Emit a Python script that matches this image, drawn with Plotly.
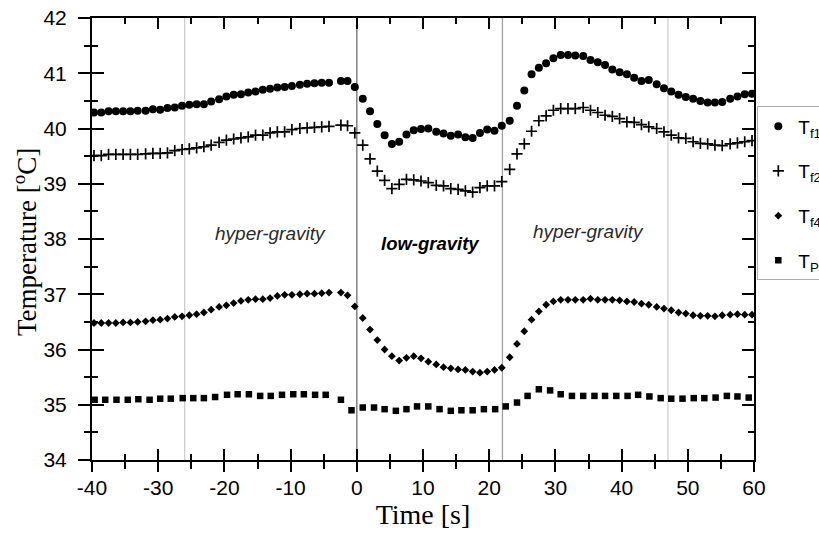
import plotly.graph_objects as go

# Sampling times of the fluid-temperature probes (s)
time_f = [
    -39.7, -38.6, -37.5, -36.4, -35.3, -34.2, -33.1, -31.9, -30.8, -29.7,
    -28.6, -27.5, -26.4, -25.3, -24.2, -23.1, -22.0, -20.8, -19.7, -18.6,
    -17.5, -16.4, -15.3, -14.2, -13.1, -12.0, -10.9, -9.8, -8.6, -7.5,
    -6.4, -5.3, -4.2, -2.4, -1.4,
    -0.3, 0.9, 2.0, 3.1, 4.2, 5.3, 6.4, 7.5, 8.6, 9.7,
    10.8, 12.0, 13.1, 14.2, 15.3, 16.4, 17.5, 18.6, 19.7, 20.8,
    21.9, 23.1, 24.2, 25.3, 26.4, 27.5, 28.6, 29.7, 30.8, 31.9,
    33.0, 34.2, 35.3, 36.4, 37.5, 38.6, 39.7, 40.8, 41.9, 43.0,
    44.1, 45.3, 46.4, 47.5, 48.6, 49.7, 50.8, 51.9, 53.0, 54.1,
    55.2, 56.4, 57.5, 58.6, 59.7,
]

t_f1 = [
    40.29, 40.29, 40.31, 40.31, 40.31, 40.31, 40.32, 40.32, 40.35, 40.34,
    40.37, 40.38, 40.41, 40.43, 40.44, 40.44, 40.49, 40.53, 40.58, 40.61,
    40.62, 40.65, 40.67, 40.70, 40.72, 40.74, 40.75, 40.77, 40.79, 40.81,
    40.82, 40.83, 40.83, 40.86, 40.86,
    40.75, 40.54, 40.31, 40.08, 39.88, 39.72, 39.76, 39.89, 39.97, 39.99,
    40.00, 39.94, 39.91, 39.87, 39.89, 39.84, 39.83, 39.92, 39.98, 39.96,
    40.05, 40.14, 40.41, 40.69, 40.98, 41.10, 41.18, 41.27, 41.33, 41.33,
    41.32, 41.31, 41.24, 41.20, 41.15, 41.07, 41.02, 40.98, 40.92, 40.86,
    40.88, 40.80, 40.73, 40.67, 40.61, 40.57, 40.54, 40.50, 40.47, 40.47,
    40.48, 40.54, 40.58, 40.62, 40.63,
]

t_f2 = [
    39.51, 39.51, 39.53, 39.53, 39.53, 39.53, 39.53, 39.54, 39.55, 39.55,
    39.56, 39.60, 39.62, 39.63, 39.65, 39.67, 39.70, 39.75, 39.79, 39.81,
    39.83, 39.85, 39.88, 39.88, 39.92, 39.94, 39.94, 39.98, 40.00, 40.01,
    40.02, 40.03, 40.04, 40.06, 40.05,
    39.92, 39.70, 39.45, 39.23, 39.06, 38.91, 38.99, 39.08, 39.07, 39.05,
    39.02, 38.97, 38.96, 38.91, 38.90, 38.87, 38.85, 38.93, 38.96, 38.96,
    39.04, 39.26, 39.54, 39.72, 39.95, 40.14, 40.23, 40.33, 40.36, 40.36,
    40.36, 40.38, 40.33, 40.29, 40.24, 40.22, 40.18, 40.12, 40.11, 40.07,
    40.03, 40.00, 39.94, 39.88, 39.83, 39.82, 39.76, 39.73, 39.72, 39.70,
    39.69, 39.72, 39.74, 39.76, 39.78,
]

t_f4 = [
    36.48, 36.48, 36.48, 36.48, 36.49, 36.49, 36.50, 36.51, 36.53, 36.54,
    36.56, 36.59, 36.60, 36.62, 36.64, 36.67, 36.72, 36.77, 36.80, 36.84,
    36.88, 36.90, 36.91, 36.91, 36.93, 36.97, 36.99, 36.99, 37.00, 37.01,
    37.01, 37.02, 37.03, 37.03, 36.98,
    36.78, 36.57, 36.36, 36.17, 36.00, 35.88, 35.80, 35.85, 35.88, 35.84,
    35.78, 35.73, 35.68, 35.66, 35.64, 35.63, 35.60, 35.58, 35.60, 35.63,
    35.67, 35.86, 36.10, 36.33, 36.54, 36.69, 36.81, 36.87, 36.90, 36.90,
    36.90, 36.90, 36.92, 36.90, 36.90, 36.90, 36.89, 36.87, 36.86, 36.83,
    36.81, 36.77, 36.74, 36.71, 36.67, 36.65, 36.62, 36.61, 36.61, 36.60,
    36.62, 36.63, 36.64, 36.63, 36.63,
]

# Phantom probe has its own, coarser sampling
time_ph = [
    -39.6, -38.0, -36.3, -34.6, -33.0, -31.3, -29.7, -28.1, -26.3, -24.7,
    -23.1, -21.4, -19.6, -18.0, -16.3, -14.6, -13.0, -11.3, -9.6, -8.0,
    -6.3, -4.7, -2.4, -0.8, 0.9, 2.6, 4.2, 5.9, 7.5, 9.1,
    10.8, 12.5, 14.2, 15.8, 17.5, 19.2, 20.9, 22.5, 24.2, 25.8,
    27.5, 29.2, 30.8, 32.5, 34.2, 35.9, 37.5, 39.2, 40.9, 42.5,
    44.2, 45.9, 47.5, 49.2, 50.9, 52.5, 54.2, 55.9, 57.5, 59.2,
]

t_ph = [
    35.09, 35.09, 35.09, 35.09, 35.10, 35.09, 35.11, 35.11, 35.12, 35.12,
    35.12, 35.14, 35.18, 35.19, 35.19, 35.16, 35.16, 35.18, 35.19, 35.19,
    35.18, 35.18, 35.09, 34.90, 34.95, 34.95, 34.92, 34.89, 34.92, 34.97,
    34.97, 34.92, 34.89, 34.90, 34.90, 34.92, 34.92, 34.97, 35.04, 35.16,
    35.28, 35.26, 35.19, 35.16, 35.16, 35.16, 35.16, 35.16, 35.16, 35.18,
    35.15, 35.12, 35.11, 35.11, 35.12, 35.12, 35.13, 35.16, 35.15, 35.13,
]

# Axis tick labels (plain hyphen for negatives)
x_tick_vals = [-40, -30, -20, -10, 0, 10, 20, 30, 40, 50, 60]
x_tick_text = ["-40", "-30", "-20", "-10", "0", "10", "20", "30", "40", "50", "60"]
y_tick_vals = [34, 35, 36, 37, 38, 39, 40, 41, 42]
y_tick_text = ["34", "35", "36", "37", "38", "39", "40", "41", "42"]

# Phase boundaries (s) and their line colours
phase_bounds = [-26, 0, 22, 47]
phase_colors = ["#c8c8c8", "#808080", "#a0a0a0", "#cccccc"]
phase_widths = [1.2, 1.5, 1.3, 1.2]

# Phase labels: (time, temperature, text, bold)
phase_labels = [
    (-13.1, 38.10, "hyper-gravity", False),
    (11.2, 37.92, "low-gravity", True),
    (35.0, 38.13, "hyper-gravity", False),
]

SANS = "Liberation Sans, Arial, sans-serif"
SERIF = "Liberation Serif, Times New Roman, serif"
CLEAR = "rgba(0,0,0,0)"

fig = go.Figure()

series = [
    ("T<sub>f1</sub>", time_f, t_f1, dict(symbol="circle", size=8, color="black")),
    ("T<sub>f2</sub>", time_f, t_f2, dict(symbol="cross-thin", size=8, color="black",
                                         line=dict(color="black", width=1.7))),
    ("T<sub>f4</sub>", time_f, t_f4, dict(symbol="diamond", size=6, color="black")),
    ("T<sub>Ph</sub>", time_ph, t_ph, dict(symbol="square", size=6.5, color="black")),
]
for i, (name, xs, ys, mk) in enumerate(series):
    fig.add_trace(go.Scatter(
        x=xs, y=ys, mode="markers", name=name, marker=mk,
        legendgroup=f"g{i}",
    ))

# Empty traces so the overlaid tick-only axes are rendered
for ax in ("2", "3"):
    fig.add_trace(go.Scatter(x=[None], y=[None], xaxis="x" + ax, yaxis="y" + ax,
                             showlegend=False, hoverinfo="skip"))

for xb, col, w in zip(phase_bounds, phase_colors, phase_widths):
    fig.add_shape(type="line", xref="x", yref="paper", x0=xb, x1=xb, y0=0, y1=1,
                  line=dict(color=col, width=w), layer="below")

for tx, ty, txt, bold in phase_labels:
    fig.add_annotation(
        x=tx, y=ty, xref="x", yref="y", showarrow=False,
        text=f"<b><i>{txt}</i></b>" if bold else f"<i>{txt}</i>",
        font=dict(family=SANS, size=18.5 if bold else 19,
                  color="black" if bold else "#2a2a2a"),
    )

# Vertical axis title, placed just left of the tick labels
fig.add_annotation(
    x=-0.1012, y=0.493, xref="paper", yref="paper", showarrow=False,
    xanchor="center", yanchor="middle", textangle=-90,
    text="Temperature [<sup>o</sup>C]",
    font=dict(family=SERIF, size=27, color="black"),
)

axis_common = dict(showgrid=False, zeroline=False, linecolor="black", linewidth=2,
                   tickwidth=2)

fig.update_layout(
    width=819, height=539,
    margin=dict(l=92, r=65, t=18, b=79, autoexpand=False),
    plot_bgcolor="white", paper_bgcolor="white",
    showlegend=True,
    legend=dict(
        x=1.005, y=0.80, xanchor="left", yanchor="top",
        bordercolor="#b0b0b0", borderwidth=1, bgcolor="white",
        font=dict(family=SANS, size=19, color="black"),
        traceorder="grouped", tracegroupgap=17,
    ),
    # Labelled axes: visible minor ticks outside, clear major ticks set label spacing
    xaxis=dict(
        range=[-40, 60], tickmode="array", tickvals=x_tick_vals, ticktext=x_tick_text,
        ticks="outside", ticklen=8, tickcolor=CLEAR, showline=True, mirror=True,
        minor=dict(dtick=5, tick0=-40, ticklen=7, tickwidth=2, tickcolor="black",
                   ticks="outside"),
        tickfont=dict(family=SANS, size=21, color="black"),
        title=dict(text="Time [s]", font=dict(family=SERIF, size=28, color="black"),
                   standoff=2),
        **axis_common,
    ),
    yaxis=dict(
        range=[34, 42], tickmode="array", tickvals=y_tick_vals, ticktext=y_tick_text,
        ticks="outside", ticklen=19, tickcolor=CLEAR, showline=True, mirror=True,
        minor=dict(dtick=0.5, tick0=34, ticklen=6, tickwidth=2, tickcolor="black",
                   ticks="outside"),
        tickfont=dict(family=SANS, size=21, color="black"),
        **axis_common,
    ),
    # Inside ticks on all four sides
    xaxis2=dict(
        overlaying="x", anchor="y2", range=[-40, 60], tickmode="array",
        tickvals=x_tick_vals, ticks="inside", ticklen=11, tickcolor="black",
        showticklabels=False, showline=True, mirror="ticks",
        minor=dict(dtick=5, tick0=-40, ticklen=6, tickwidth=2, tickcolor="black",
                   ticks="inside"),
        **axis_common,
    ),
    yaxis2=dict(
        overlaying="y", anchor="x2", range=[34, 42], tickmode="array",
        tickvals=y_tick_vals, ticks="inside", ticklen=12, tickcolor="black",
        showticklabels=False, showline=True, mirror="ticks",
        minor=dict(dtick=0.5, tick0=34, ticklen=6, tickwidth=2, tickcolor="black",
                   ticks="inside"),
        **axis_common,
    ),
    # Visible outside major ticks on bottom and left
    xaxis3=dict(
        overlaying="x", anchor="y3", range=[-40, 60], tickmode="array",
        tickvals=x_tick_vals, ticks="outside", ticklen=10, tickcolor="black",
        showticklabels=False, showline=True,
        **axis_common,
    ),
    yaxis3=dict(
        overlaying="y", anchor="x3", range=[34, 42], tickmode="array",
        tickvals=y_tick_vals, ticks="outside", ticklen=12, tickcolor="black",
        showticklabels=False, showline=True,
        **axis_common,
    ),
)

fig.write_html("out.html")
